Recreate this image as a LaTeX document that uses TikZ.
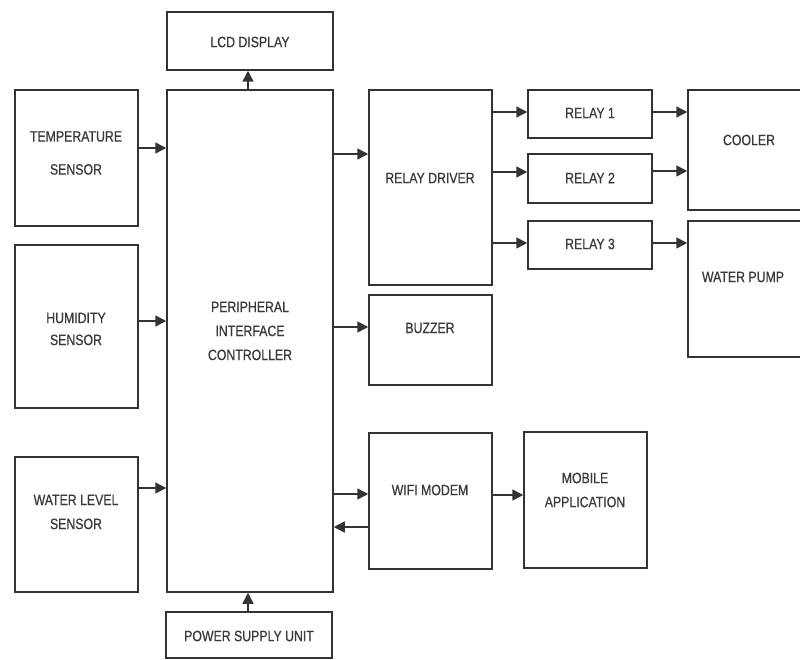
\documentclass[tikz,border=0pt]{standalone}
\usepackage{fontspec}
\setmainfont{Liberation Sans}[FakeStretch=0.82,FakeBold=0.6]
\usetikzlibrary{arrows.meta}
\definecolor{ln}{HTML}{333333}
\definecolor{tx}{HTML}{3A3A3A}
\begin{document}
\begin{tikzpicture}[x=1pt,y=-1pt,
  box/.style={draw=ln,line width=1.5pt,inner sep=0pt},
  lbl/.style={text=tx,font=\fontsize{15}{24}\selectfont,align=center,inner sep=0pt},
  arr/.style={draw=ln,line width=1.5pt,-{Triangle[length=11pt,width=11pt]}}]
\useasboundingbox (0,0) rectangle (800,660);
\clip (0,0) rectangle (800,660);
\fill[white] (0,0) rectangle (800,660);
% boxes
\node[box,minimum width=123pt,minimum height=136pt] (temp) at (76.5,158) {};
\node[box,minimum width=123pt,minimum height=163pt] (hum) at (76.5,326.5) {};
\node[box,minimum width=123pt,minimum height=135pt] (wat) at (76.5,524.5) {};
\node[box,minimum width=166pt,minimum height=58pt] (lcd) at (250,41) {};
\node[box,minimum width=166pt,minimum height=502pt] (pic) at (250,341) {};
\node[box,minimum width=166pt,minimum height=46pt] (psu) at (249,635) {};
\node[box,minimum width=123pt,minimum height=195pt] (rd) at (430.5,187.5) {};
\node[box,minimum width=123pt,minimum height=90pt] (buz) at (430.5,340) {};
\node[box,minimum width=123pt,minimum height=136pt] (wifi) at (430.5,501) {};
\node[box,minimum width=123pt,minimum height=136pt] (mob) at (585.5,500) {};
\node[box,minimum width=124pt,minimum height=48pt] (r1) at (590,114) {};
\node[box,minimum width=124pt,minimum height=49pt] (r2) at (590,178.5) {};
\node[box,minimum width=124pt,minimum height=48pt] (r3) at (590,245) {};
\node[box,minimum width=122pt,minimum height=120pt] (cool) at (749,150) {};
\node[box,minimum width=122pt,minimum height=136pt] (pump) at (749,289) {};
% labels
\node[lbl] (tTemp) at (76,153) {TEMPERATURE\\[9pt]SENSOR};
\node[lbl] (tHum) at (76,329) {HUMIDITY\\[-2pt]SENSOR};
\node[lbl] (tWat) at (76,512) {WATER LEVEL\\SENSOR};
\node[lbl] (tLcd) at (250,42) {LCD DISPLAY};
\node[lbl] (tPic) at (250,331) {PERIPHERAL\\INTERFACE\\CONTROLLER};
\node[lbl] (tPsu) at (249,636) {POWER SUPPLY UNIT};
\node[lbl] (tRd) at (430,178) {RELAY DRIVER};
\node[lbl] (tBuz) at (430,328) {BUZZER};
\node[lbl] (tWifi) at (430,490) {WIFI MODEM};
\node[lbl] (tMob) at (585,490) {MOBILE\\APPLICATION};
\node[lbl] (tR1) at (590,113) {RELAY 1};
\node[lbl] (tR2) at (590,178) {RELAY 2};
\node[lbl] (tR3) at (590,244) {RELAY 3};
\node[lbl] (tCool) at (749,140) {COOLER};
\node[lbl] (tPump) at (743,277) {WATER PUMP};
% connectors
\draw[arr] (temp.east |- 0,148) -- (pic.west |- 0,148);
\draw[arr] (hum.east |- 0,321) -- (pic.west |- 0,321);
\draw[arr] (wat.east |- 0,488) -- (pic.west |- 0,488);
\draw[arr] (pic.north -| 248,0) -- (lcd.south -| 248,0);
\draw[arr] (psu.north -| 248,0) -- (pic.south -| 248,0);
\draw[arr] (pic.east |- 0,154) -- (rd.west |- 0,154);
\draw[arr] (pic.east |- 0,327) -- (buz.west |- 0,327);
\draw[arr] (pic.east |- 0,494) -- (wifi.west |- 0,494);
\draw[arr] (wifi.west |- 0,527) -- (pic.east |- 0,527);
\draw[arr] (wifi.east |- 0,495) -- (mob.west |- 0,495);
\draw[arr] (rd.east |- 0,112) -- (r1.west |- 0,112);
\draw[arr] (rd.east |- 0,172) -- (r2.west |- 0,172);
\draw[arr] (rd.east |- 0,243) -- (r3.west |- 0,243);
\draw[arr] (r1.east |- 0,112) -- (cool.west |- 0,112);
\draw[arr] (r2.east |- 0,171) -- (cool.west |- 0,171);
\draw[arr] (r3.east |- 0,243) -- (pump.west |- 0,243);
\end{tikzpicture}
\end{document}
